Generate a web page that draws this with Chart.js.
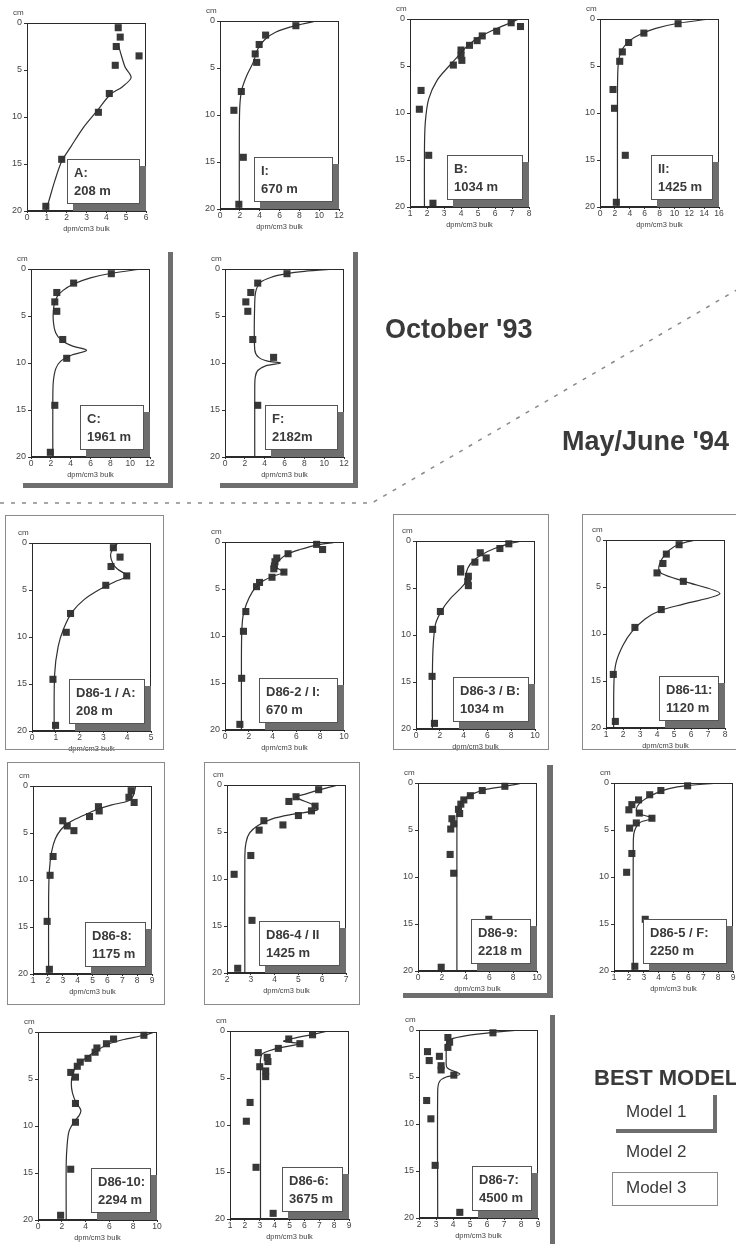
<!DOCTYPE html>
<html>
<head>
<meta charset="utf-8">
<script src="https://cdn.jsdelivr.net/npm/chart.js@4.4.1/dist/chart.umd.min.js"></script>
<style>
body { margin: 0; background: #fff; }
#page { position: relative; width: 736px; height: 1244px; overflow: hidden; background: #fff;
  font-family: "Liberation Sans", Arial, sans-serif; color: #3a3a3a; }
canvas { position: absolute; }
.tag { position: absolute; box-sizing: border-box; background: #fff; border: 1px solid #555; box-shadow: 6px 7px 0 #6e6e6e;
  font-weight: bold; font-size: 13px; line-height: 18px; padding: 4px 4px 3px 6px; white-space: nowrap; overflow: hidden; }
.frame { position: absolute; border: 1px solid #8a8a8a; }
.bar { position: absolute; background: #6e6e6e; }
.txt { position: absolute; white-space: nowrap; line-height: 1; }
</style>
</head>
<body>
<div id="page"></div>
<script>
const A_obs = [[4.6,0.5],[4.7,1.5],[4.5,2.5],[5.65,3.5],[4.45,4.5],[4.15,7.5],[3.6,9.5],[1.75,14.5],[0.95,19.5]];
const A_model = [[4.6,2.3],[4.75,3.4],[4.95,4.7],[5.25,5.8],[4.8,6.8],[4.2,7.6],[3.55,9.3],[2.85,11.1],[2.2,13.2],[1.75,14.7],[1.4,16.8],[1.12,18.8],[0.95,20]];
const I_obs = [[7.65,0.5],[4.6,1.5],[3.95,2.5],[3.55,3.5],[3.7,4.4],[2.15,7.5],[1.4,9.5],[2.35,14.5],[1.9,19.5]];
const I_model = [[9.8,0],[7.6,0.5],[5.6,1.2],[4.5,2.0],[3.8,3.0],[3.35,4.4],[2.7,5.8],[2.2,7.3],[2.0,9],[1.95,12],[1.95,20]];
const B_obs = [[6.95,0.4],[7.5,0.8],[6.1,1.3],[5.25,1.8],[4.95,2.3],[4.5,2.8],[4.0,3.3],[4.0,3.9],[4.05,4.4],[3.55,4.9],[1.65,7.6],[1.55,9.6],[2.1,14.5],[2.35,19.6]];
const B_model = [[7.4,0],[6.9,0.4],[6.0,1.1],[5.0,2.0],[4.3,3.0],[3.8,4.0],[3.3,5.0],[2.6,6.5],[2.1,8.5],[1.9,11],[1.85,14],[1.85,20]];
const II_obs = [[10.5,0.5],[5.9,1.5],[3.85,2.5],[3.0,3.5],[2.65,4.5],[1.75,7.5],[1.95,9.5],[3.4,14.5],[2.2,19.5]];
const II_model = [[14.8,0],[10.5,0.45],[7.5,1.0],[5.5,1.6],[4.0,2.3],[3.0,3.2],[2.55,4.2],[2.4,5.5],[2.35,8],[2.35,20]];
const C_obs = [[8.1,0.5],[4.3,1.5],[2.6,2.5],[2.4,3.5],[2.6,4.5],[3.2,7.5],[3.6,9.5],[2.4,14.5],[1.95,19.5]];
const C_model = [[11.2,0],[8.1,0.45],[6.0,0.95],[4.3,1.6],[3.2,2.3],[2.6,3.0],[2.3,4.0],[2.25,5.5],[2.5,6.8],[3.1,7.6],[4.2,8.2],[5.6,8.65],[4.0,9.2],[3.0,9.8],[2.5,10.6],[2.25,12],[2.2,14],[2.2,20]];
const F_obs = [[6.25,0.5],[3.3,1.5],[2.6,2.5],[2.1,3.5],[2.3,4.5],[2.8,7.5],[4.9,9.4],[3.3,14.5]];
const F_model = [[11.2,0],[8.0,0.25],[6.2,0.5],[4.6,0.9],[3.6,1.4],[3.15,2.2],[3.0,3.5],[3.0,8.6],[3.4,9.4],[4.3,9.8],[5.6,10.0],[4.1,10.3],[3.3,10.8],[3.05,11.5],[3.0,13],[3.0,20]];
const D1_obs = [[3.42,0.5],[3.7,1.5],[3.32,2.5],[3.98,3.5],[3.1,4.5],[1.62,7.5],[1.44,9.5],[0.88,14.5],[0.99,19.4]];
const D1_model = [[3.6,0],[3.4,0.6],[3.3,1.3],[3.4,2.2],[3.6,2.8],[4.0,3.5],[3.5,4.1],[2.8,5.0],[2.2,6.0],[1.7,7.3],[1.35,9.0],[1.1,11],[0.95,14],[0.93,20]];
const D2_obs = [[7.7,0.25],[8.2,0.8],[5.3,1.25],[4.35,1.7],[4.2,2.1],[4.15,2.55],[4.1,2.85],[4.95,3.2],[3.95,3.75],[2.9,4.3],[2.65,4.75],[1.75,7.4],[1.55,9.5],[1.4,14.5],[1.25,19.4]];
const D2_model = [[9.5,0],[7.8,0.3],[6.3,0.8],[5.2,1.3],[4.5,2.0],[4.2,2.6],[4.9,3.2],[3.9,3.7],[2.9,4.4],[2.3,5.3],[1.8,6.6],[1.5,8.0],[1.4,10],[1.38,13],[1.38,20]];
const D3_obs = [[7.8,0.3],[7.05,0.8],[5.4,1.25],[5.9,1.8],[4.95,2.25],[3.75,2.95],[3.75,3.3],[4.4,3.75],[4.35,4.3],[4.4,4.75],[2.05,7.5],[1.4,9.4],[1.35,14.4],[1.55,19.4]];
const D3_model = [[8.9,0],[7.8,0.3],[6.6,0.8],[5.6,1.4],[4.8,2.1],[4.35,2.9],[4.2,3.6],[4.15,4.4],[3.7,5.1],[2.9,6.1],[2.2,7.3],[1.65,8.8],[1.45,11],[1.38,14],[1.38,20]];
const D11_obs = [[5.3,0.5],[4.55,1.5],[4.35,2.5],[4.0,3.5],[5.55,4.4],[4.25,7.4],[2.7,9.3],[1.43,14.3],[1.55,19.3]];
const D11_model = [[6.3,0],[5.3,0.45],[4.7,1.1],[4.3,2.0],[4.1,3.0],[4.3,3.6],[5.6,4.4],[7.7,5.7],[5.6,6.8],[4.2,7.5],[3.3,8.4],[2.5,9.8],[2.0,11.2],[1.6,13],[1.47,15],[1.45,20]];
const D8_obs = [[7.6,0.5],[7.45,1.2],[7.8,1.75],[5.4,2.2],[5.45,2.65],[4.8,3.25],[3.0,3.7],[3.3,4.25],[3.75,4.75],[2.35,7.5],[2.15,9.5],[1.95,14.4],[2.1,19.5]];
const D8_model = [[7.9,0],[7.75,1.0],[7.4,1.6],[6.3,2.0],[5.3,2.5],[4.3,3.2],[3.4,3.9],[2.9,4.6],[2.5,5.6],[2.25,7.0],[2.1,9],[2.05,12],[2.05,20]];
const D4_obs = [[5.85,0.5],[4.9,1.25],[4.6,1.75],[5.7,2.25],[5.55,2.75],[5.0,3.25],[3.55,3.8],[4.35,4.25],[3.35,4.8],[3.0,7.5],[2.3,9.5],[3.05,14.4],[2.45,19.5]];
const D4_model = [[6.7,0],[5.9,0.5],[5.25,1.0],[4.9,1.3],[5.7,2.2],[5.8,2.65],[4.8,3.1],[3.9,3.6],[3.3,4.3],[2.95,5.1],[2.8,6.1],[2.75,7.5],[2.75,20]];
const D9_obs = [[7.3,0.35],[5.4,0.8],[4.4,1.35],[3.85,1.8],[3.6,2.25],[3.4,2.8],[3.5,3.25],[2.85,3.8],[3.0,4.35],[2.75,4.9],[2.7,7.6],[3.0,9.6],[5.95,14.5],[1.95,19.6]];
const D9_model = [[8.8,0],[7.3,0.35],[5.8,0.65],[4.7,1.1],[3.9,1.7],[3.5,2.4],[3.3,3.3],[3.27,4.5],[3.27,20]];
const D5_obs = [[5.95,0.3],[4.15,0.8],[3.4,1.25],[2.65,1.8],[2.2,2.3],[2.0,2.85],[2.7,3.2],[3.55,3.75],[2.5,4.25],[2.05,4.8],[2.2,7.5],[1.85,9.5],[3.1,14.5],[2.4,19.5]];
const D5_model = [[8.2,0],[5.9,0.28],[4.7,0.6],[3.8,1.1],[3.2,1.6],[2.7,2.2],[2.5,2.8],[2.65,3.25],[3.6,3.75],[2.75,4.2],[2.4,5.0],[2.3,6.0],[2.3,20]];
const D10_obs = [[8.9,0.35],[6.35,0.75],[5.75,1.25],[4.95,1.7],[4.8,2.15],[4.2,2.8],[3.55,3.2],[3.3,3.65],[2.75,4.3],[3.15,4.8],[3.15,7.6],[3.15,9.6],[2.75,14.6],[1.9,19.5]];
const D10_model = [[9.8,0],[8.9,0.35],[7.2,0.8],[5.9,1.3],[4.9,2.0],[3.9,2.9],[3.2,3.7],[2.9,4.5],[2.8,5.5],[2.9,6.5],[3.2,7.5],[3.6,8.3],[3.45,8.9],[3.0,9.6],[2.6,10.6],[2.45,12],[2.37,14],[2.37,20]];
const D6_obs = [[6.55,0.4],[4.95,0.85],[5.7,1.35],[4.25,1.85],[2.9,2.3],[3.5,2.8],[3.55,3.25],[3.0,3.8],[3.4,4.25],[3.4,4.85],[2.35,7.6],[2.1,9.6],[2.75,14.5],[3.9,19.4]];
const D6_model = [[7.6,0],[6.6,0.35],[5.2,0.8],[4.6,1.1],[5.7,1.35],[4.3,1.8],[3.2,2.4],[3.05,3.0],[3.05,4],[3.05,20]];
const D7_obs = [[6.35,0.3],[3.7,0.8],[3.8,1.3],[3.7,1.85],[2.5,2.3],[3.2,2.8],[2.6,3.25],[3.3,3.8],[3.3,4.25],[4.05,4.8],[2.45,7.5],[2.7,9.45],[2.95,14.4],[4.4,19.4]];
const D7_model = [[8.0,0],[6.4,0.25],[4.8,0.6],[3.85,1.0],[3.6,1.5],[3.6,2.2],[3.6,3.0],[3.65,4.0],[4.4,4.7],[3.6,5.0],[3.2,5.5],[3.1,6.5],[3.1,20]];

// station labels and x-axis ticks [min, max, step]
const stationNames = {
  A: ['A:', '208 m'], I: ['I:', '670 m'], B: ['B:', '1034 m'], II: ['II:', '1425 m'],
  C: ['C:', '1961 m'], F: ['F:', '2182m'],
  D1: ['D86-1 / A:', '208 m'], D2: ['D86-2 / I:', '670 m'], D3: ['D86-3 / B:', '1034 m'], D11: ['D86-11:', '1120 m'],
  D8: ['D86-8:', '1175 m'], D4: ['D86-4 / II', '1425 m'], D9: ['D86-9:', '2218 m'], D5: ['D86-5 / F:', '2250 m'],
  D10: ['D86-10:', '2294 m'], D6: ['D86-6:', '3675 m'], D7: ['D86-7:', '4500 m']
};
const xTicks = {
  A: [0,6,1], I: [0,12,2], B: [1,8,1], II: [0,16,2], C: [0,12,2], F: [0,12,2],
  D1: [0,5,1], D2: [0,10,2], D3: [0,10,2], D11: [1,8,1],
  D8: [1,9,1], D4: [2,7,1], D9: [0,10,2], D5: [1,9,1],
  D10: [0,10,2], D6: [1,9,1], D7: [2,9,1]
};
const depthTicks = [0, 20, 5];
const series = {
  A: [A_obs, A_model], I: [I_obs, I_model], B: [B_obs, B_model], II: [II_obs, II_model],
  C: [C_obs, C_model], F: [F_obs, F_model],
  D1: [D1_obs, D1_model], D2: [D2_obs, D2_model], D3: [D3_obs, D3_model], D11: [D11_obs, D11_model],
  D8: [D8_obs, D8_model], D4: [D4_obs, D4_model], D9: [D9_obs, D9_model], D5: [D5_obs, D5_model],
  D10: [D10_obs, D10_model], D6: [D6_obs, D6_model], D7: [D7_obs, D7_model]
};

// layout: plot area top-left corners and label box widths
const plotPos = {
  A: [27,23], I: [220,21], B: [410,19], II: [600,19], C: [31,269], F: [225,269],
  D1: [32,543], D2: [225,542], D3: [416,541], D11: [606,540],
  D8: [33,786], D4: [227,785], D9: [418,783], D5: [614,783],
  D10: [38,1032], D6: [230,1031], D7: [419,1030]
};
const tagWidth = {
  A: 73, I: 79, B: 76, II: 62, C: 64, F: 73,
  D1: 76, D2: 79, D3: 76, D11: 60, D8: 61, D4: 81, D9: 60, D5: 84,
  D10: 60, D6: 61, D7: 60
};
const PW = 119, PH = 188, ML = 26, MT = 16, MR = 10, MB = 22;

const page = document.getElementById('page');
Chart.defaults.font.family = '"Liberation Sans", Arial, sans-serif';
Chart.defaults.color = '#444';

const boxPlugin = {
  id: 'box',
  afterDatasetsDraw(c) {
    const a = c.chartArea, g = c.ctx;
    g.save();
    g.strokeStyle = '#2a2a2a';
    g.lineWidth = 1;
    g.strokeRect(a.left + 0.5, a.top + 0.5, a.width - 1, a.height - 1);
    g.fillStyle = '#444';
    g.font = '8px "Liberation Sans", Arial';
    g.fillText('cm', a.left - 14, a.top - 8);
    g.restore();
  }
};

function el(cls, css, text) {
  const d = document.createElement('div');
  d.className = cls;
  Object.assign(d.style, css);
  if (text !== undefined) d.innerHTML = text;
  page.appendChild(d);
  return d;
}

for (const key of Object.keys(series)) {
  const [obs, model] = series[key];
  const [xmin, xmax, xstep] = xTicks[key];
  const [px, py] = plotPos[key];
  const cv = document.createElement('canvas');
  cv.width = PW + ML + MR;
  cv.height = PH + MT + MB;
  cv.style.left = (px - ML) + 'px';
  cv.style.top = (py - MT) + 'px';
  page.appendChild(cv);

  new Chart(cv, {
    type: 'scatter',
    data: {
      datasets: [
        {
          data: model.map(([x, y]) => ({ x, y })),
          showLine: true, tension: 0.3, pointRadius: 0,
          borderColor: '#303030', borderWidth: 1.2
        },
        {
          data: obs.map(([x, y]) => ({ x, y })),
          pointStyle: 'rect', pointRadius: 5, borderWidth: 0,
          backgroundColor: '#383838', clip: 6
        }
      ]
    },
    options: {
      animation: false,
      responsive: false,
      events: [],
      layout: { padding: { left: 0, top: MT, right: MR, bottom: 0 } },
      plugins: { legend: { display: false }, tooltip: { enabled: false } },
      scales: {
        x: {
          type: 'linear', min: xmin, max: xmax,
          ticks: { stepSize: xstep, font: { size: 8.5 }, padding: 0, maxRotation: 0, autoSkip: false },
          grid: { drawOnChartArea: false, tickLength: 2, color: '#333' },
          border: { color: '#2a2a2a' },
          title: { display: true, text: 'dpm/cm3 bulk', font: { size: 7.5 }, padding: { top: 0, bottom: 0 } },
          afterFit: (a) => { a.height = MB; }
        },
        y: {
          type: 'linear', reverse: true, min: depthTicks[0], max: depthTicks[1],
          ticks: { stepSize: depthTicks[2], font: { size: 9 }, padding: 2 },
          grid: { drawOnChartArea: false, tickLength: 3, color: '#333' },
          border: { color: '#2a2a2a' },
          afterFit: (a) => { a.width = ML; }
        }
      }
    },
    plugins: [boxPlugin]
  });

  const [l1, l2] = stationNames[key];
  el('tag', { width: tagWidth[key] + 'px', right: (736 - (px + PW - 6)) + 'px', bottom: (1244 - (py + PH - 7)) + 'px' }, l1 + '<br>' + l2);
}

// model 3 frames
[[5,515,157,233],[393,514,154,234],[582,514,160,234],[7,762,156,241],[204,762,154,241],[612,1172,104,32]]
  .forEach(([l,t,w,h]) => el('frame', { left: l+'px', top: t+'px', width: w+'px', height: h+'px' }));
// model 1 L-shaped bars
[[168,252,5,236],[23,483,150,5],[353,252,5,236],[220,483,138,5],
 [547,765,6,233],[403,993,150,5],[550,1015,5,229],[713,1095,4,38],[616,1129,100,4]]
  .forEach(([l,t,w,h]) => el('bar', { left: l+'px', top: t+'px', width: w+'px', height: h+'px' }));

// dashed separator
page.insertAdjacentHTML('beforeend',
  '<svg width="736" height="1244" style="position:absolute;left:0;top:0;pointer-events:none">' +
  '<polyline points="0,503 372,503 740,288" fill="none" stroke="#8a8a8a" stroke-width="1.5" stroke-dasharray="4 7"/></svg>');

el('txt', { left: '385px', top: '316px', fontSize: '27px', fontWeight: 'bold' }, "October '93");
el('txt', { left: '562px', top: '428px', fontSize: '27px', fontWeight: 'bold' }, "May/June '94");
el('txt', { left: '594px', top: '1067px', fontSize: '22px', fontWeight: 'bold' }, 'BEST MODEL');
el('txt', { left: '626px', top: '1103px', fontSize: '17px' }, 'Model 1');
el('txt', { left: '626px', top: '1143px', fontSize: '17px' }, 'Model 2');
el('txt', { left: '626px', top: '1179px', fontSize: '17px' }, 'Model 3');
</script>
</body>
</html>
